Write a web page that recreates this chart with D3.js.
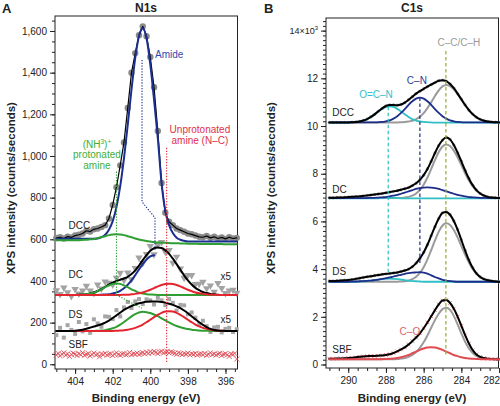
<!DOCTYPE html>
<html><head><meta charset="utf-8">
<script src="https://cdn.jsdelivr.net/npm/d3@7"></script>
<style>
body{margin:0;background:#fff}
svg{display:block;font-family:"Liberation Sans",Arial,Helvetica,sans-serif}
</style></head><body>
<svg id="c" width="500" height="406"></svg>
<script>
// ================= DATA : Panel A (N1s) =================
// energy sampling grid, 405.0 -> 395.4 eV, 0.2 eV steps (49 points)
const energyA = d3.range(49).map(i => +(405 - 0.2 * i).toFixed(1));
// SBF raw data grid, 0.1 eV steps (97 points)
const energySBF = d3.range(97).map(i => +(405 - 0.1 * i).toFixed(1));

const dccData  = [606,610,604,613,609,618,622,628,641,637, 648,652,659,668,700,765,850,955,1065,1230, 1400,1494,1580,1622,1575,1475,1330,1120,870,728, 684,668,652,644,636,628,624,618,612,610, 616,607,612,604,609,602,610,604,607];
const dccAmide = [603,603,603,603,603,603,603,603,603,603, 603,604,610,622,646,687,755,855,989,1149, 1319,1471,1576,1613,1565,1440,1270,1085,870,735, 668,630,608,598,593,590,590,590,590,590, 590,590,590,590,590,590,590,590,590];
const dccProt  = [595,595,595,595,595,596,596,597,598,600, 602,606,610,615,620,623,624,623,620,615, 610,604,599,595,592,589,587,585,584,583, 582,581,581,580,580,579,579,579,578,578, 578,577,577,577,577,576,576,576,576];

const dcData   = [355,337,368,345,327,361,339,353,376,354, 341,382,363,397,391,382,415,439,404,440, 408,461,512,485,529,567,527,573,586,539, 548,487,516,459,415,428,428,385,386,395, 364,378,348,389,365,341,353,357,343];
const dcFit    = [333,333,333,333,333,333,334,335,336,340, 345,352,361,372,383,392,400,406,412,420, 433,451,474,500,524,545,557,561,558,547, 530,507,481,454,427,403,383,367,356,347, 342,338,336,334,333,333,333,333,333];
// amide component of DC, plotted up to its maximum (as in the figure)
const dcAmide  = [333,333,333,333,333,333,333,333,333,333, 333,333,334,335,336,340,345,353,365,382, 403,428,455,481,503,518,523];
const dcProt   = [333,333,333,333,333,333,334,335,336,340, 344,352,360,370,379,386,388,386,379,370, 360,352,344,340,336,335,334,333,333,333, 333,333,333,333,333,333,333,333,333,333, 333,333,333,333,333,333,333,333,333];
const dcUnprot = [333,333,333,333,333,333,333,333,333,333, 333,333,333,333,333,333,333,333,334,334, 336,338,341,345,351,358,366,374,381,385, 387,385,381,374,366,358,351,345,341,338, 336,334,334,333,333,333,333,333,333];

const dsData   = [140,175,128,188,165,146,203,158,193,151, 216,196,180,230,228,217,260,230,273,299, 270,302,313,289,312,307,287,319,307,284, 313,295,258,285,283,240,249,224,192,209, 183,155,177,180,153,170,175,155,168];
const dsFit    = [160,160,160,160,160,161,163,166,171,176, 181,186,192,200,210,222,235,248,261,271, 280,287,293,297,300,302,302,301,299,296, 291,285,278,270,258,245,231,216,202,189, 178,170,165,162,161,160,160,160,160];
const dsProt   = [160,160,160,160,160,160,160,160,160,160, 160,161,162,164,168,173,180,190,203,216, 230,241,249,252,250,246,239,231,221,211, 201,192,184,178,173,169,166,164,162,161, 161,160,160,160,160,160,160,160,160];
const dsUnprot = [160,160,160,160,160,160,160,160,160,160, 160,160,160,160,160,160,161,162,163.5,166, 170,175,182,191,202,214,226,237,247,253, 255,253,247,237,226,214,202,191,182,175, 170,166,163.5,162,161,160,160,160,160];

const sbfA = [45,52,41,48,55,44,50,38,47,53, 49,42,51,46,56,43,48,52,40,47, 54,45,49,36,50,46,53,44,48,51, 42,49,55,47,43,50,52,45,48,57, 46,51,49,54,47,52,56,50,58,53, 60,55,62,57,51,59,63,54,58,61, 55,60,57,53,48,55,51,46,52,49, 54,45,50,47,53,44,49,51,46,52, 43,48,55,47,50,44,49,53,42,48, 51,45,38,50,47,52,25];

const yTicksA = [0,200,400,600,800,1000,1200,1400,1600];
const xTicksA = [404,402,400,398,396];

// ================= DATA : Panel B (C1s) =================
const energyB = d3.range(46).map(i => +(291 - 0.2 * i).toFixed(1));

const dccFitB = [10.15,10.15,10.15,10.15,10.15,10.15,10.16,10.17,10.19,10.23, 10.29,10.38,10.49,10.62,10.74,10.84,10.88,10.88,10.87,10.90, 10.98,11.10,11.23,11.36,11.46,11.56,11.65,11.74,11.82,11.90, 11.92,11.88,11.76,11.59,11.36,11.12,10.88,10.67,10.50,10.37, 10.28,10.22,10.19,10.17,10.16,10.15];
const dccCC   = [10.15,10.15,10.15,10.15,10.15,10.15,10.15,10.15,10.15,10.15, 10.15,10.15,10.15,10.15,10.15,10.15,10.15,10.15,10.15,10.16, 10.17,10.19,10.22,10.29,10.39,10.54,10.75,11.00,11.26,11.50, 11.66,11.72,11.67,11.54,11.34,11.11,10.88,10.67,10.50,10.37, 10.28,10.22,10.19,10.17,10.16,10.15];
const dccCN   = [10.15,10.15,10.15,10.15,10.15,10.15,10.15,10.15,10.15,10.15, 10.15,10.15,10.15,10.16,10.17,10.20,10.24,10.31,10.41,10.55, 10.71,10.89,11.04,11.15,11.19,11.15,11.04,10.89,10.71,10.55, 10.41,10.31,10.24,10.20,10.17,10.16,10.15,10.15,10.15,10.15, 10.15,10.15,10.15,10.15,10.15,10.15];
const dccOCN  = [10.14,10.14,10.14,10.14,10.14,10.14,10.16,10.17,10.19,10.23, 10.29,10.38,10.49,10.61,10.72,10.80,10.83,10.80,10.72,10.61, 10.49,10.38,10.29,10.23,10.19,10.17,10.16,10.15,10.14,10.14, 10.14,10.14,10.14,10.14,10.14,10.14,10.14,10.14,10.14,10.14, 10.14,10.14,10.14,10.14,10.14,10.14];

const dcFitB = [6.99,6.99,7.00,7.00,7.01,7.02,7.03,7.04,7.05,7.07, 7.09,7.11,7.13,7.15,7.17,7.20,7.23,7.26,7.29,7.33, 7.37,7.42,7.50,7.60,7.74,7.94,8.20,8.52,8.87,9.18, 9.41,9.52,9.44,9.20,8.88,8.52,8.14,7.80,7.52,7.31, 7.17,7.08,7.03,7.00,6.99,6.98];
const dcCC   = [6.98,6.98,6.98,6.98,6.98,6.98,6.98,6.98,6.98,6.98, 6.98,6.98,6.98,6.98,6.98,6.98,6.98,6.98,6.98,6.98, 7.00,7.03,7.08,7.17,7.32,7.54,7.84,8.20,8.57,8.91, 9.14,9.23,9.16,8.97,8.69,8.36,8.02,7.72,7.48,7.30, 7.17,7.08,7.03,7.01,6.99,6.98];
const dcCN   = [6.98,6.98,6.98,6.98,6.98,6.98,6.98,6.98,6.98,6.98, 6.98,6.99,6.99,7.00,7.01,7.02,7.05,7.08,7.11,7.16, 7.21,7.26,7.31,7.36,7.40,7.42,7.43,7.42,7.40,7.36, 7.31,7.26,7.21,7.16,7.11,7.08,7.05,7.02,7.01,7.00, 6.99,6.99,6.98,6.98,6.98,6.98];
const dcOCN  = [6.97,6.97,6.97,6.97,6.97,6.97,6.97,6.97,6.97,6.97, 6.97,6.97,6.97,6.97,6.98,6.99,6.99,6.99,6.98,6.97, 6.97,6.97,6.97,6.97,6.97,6.97,6.97,6.97,6.97,6.97, 6.97,6.97,6.97,6.97,6.97,6.97,6.97,6.97,6.97,6.97, 6.97,6.97,6.97,6.97,6.97,6.97];

const dsFitB = [3.50,3.50,3.51,3.52,3.53,3.54,3.56,3.59,3.62,3.65, 3.68,3.70,3.73,3.75,3.78,3.80,3.82,3.84,3.86,3.90, 3.94,4.00,4.10,4.25,4.45,4.70,5.02,5.40,5.78,6.12, 6.36,6.40,6.28,6.02,5.66,5.22,4.78,4.38,4.06,3.82, 3.67,3.58,3.53,3.50,3.48,3.47];
const dsCC   = [3.47,3.47,3.47,3.47,3.47,3.47,3.47,3.47,3.47,3.47, 3.47,3.47,3.47,3.47,3.47,3.47,3.47,3.47,3.47,3.48, 3.49,3.52,3.58,3.68,3.84,4.08,4.41,4.80,5.20,5.57, 5.83,5.92,5.85,5.64,5.33,4.97,4.61,4.28,4.01,3.81, 3.67,3.58,3.53,3.50,3.48,3.47];
const dsCN   = [3.47,3.47,3.47,3.47,3.47,3.47,3.48,3.48,3.49,3.50, 3.51,3.52,3.54,3.56,3.59,3.62,3.65,3.69,3.73,3.76, 3.80,3.83,3.85,3.86,3.87,3.85,3.81,3.74,3.67,3.61, 3.55,3.52,3.50,3.48,3.47,3.47,3.47,3.47,3.47,3.47, 3.47,3.47,3.47,3.47,3.47,3.47];
const dsOCN  = [3.47,3.47,3.47,3.47,3.47,3.47,3.47,3.47,3.48,3.49, 3.50,3.51,3.54,3.56,3.58,3.59,3.60,3.59,3.58,3.56, 3.54,3.51,3.50,3.49,3.48,3.47,3.47,3.47,3.47,3.47, 3.47,3.47,3.47,3.47,3.47,3.47,3.47,3.47,3.47,3.47, 3.47,3.47,3.47,3.47,3.47,3.47];

const sbfFitB = [0.24,0.24,0.25,0.25,0.26,0.27,0.28,0.30,0.32,0.34, 0.35,0.36,0.36,0.37,0.38,0.40,0.43,0.48,0.55,0.63, 0.72,0.84,0.98,1.13,1.31,1.52,1.76,2.02,2.28,2.52, 2.68,2.70,2.58,2.34,2.01,1.62,1.23,0.88,0.60,0.42, 0.32,0.27,0.24,0.23,0.22,0.22];
const sbfCC   = [0.22,0.22,0.22,0.22,0.22,0.22,0.22,0.22,0.22,0.22, 0.22,0.22,0.22,0.22,0.22,0.22,0.22,0.22,0.23,0.25, 0.27,0.32,0.40,0.52,0.70,0.93,1.22,1.54,1.86,2.13, 2.32,2.38,2.29,2.04,1.68,1.30,0.95,0.67,0.48,0.36, 0.29,0.25,0.23,0.22,0.22,0.22];
const sbfCO   = [0.22,0.22,0.22,0.22,0.22,0.22,0.22,0.22,0.22,0.22, 0.22,0.22,0.22,0.22,0.225,0.23,0.24,0.25,0.27,0.305, 0.35,0.40,0.47,0.54,0.61,0.67,0.71,0.72,0.71,0.67, 0.61,0.54,0.47,0.40,0.35,0.305,0.27,0.25,0.24,0.23, 0.225,0.22,0.22,0.22,0.22,0.22];

const yTicksB = [0,2,4,6,8,10,12,14];
const xTicksB = [290,288,286,284,282];

// guide lines [energy, value]
const guideAGreen = [[401.8,925],[401.8,333],[400.44,269]];
const guideABlue  = [[400.44,1461],[400.44,780],[399.75,703],[399.75,549]];
const guideARed   = [[399.13,1039],[399.13,10]];
const guideBCyan  = [[287.88,10.81],[287.88,3.75]];
const guideBNavy  = [[286.2,11.2],[286.2,4.26]];
const guideBGreen = [[284.82,13.15],[284.82,0.4]];

// ================= LAYOUT / STYLE =================
const svg = d3.select("#c");
const C = {
  blue:"#1b2f8f", green:"#2f9e33", red:"#e3262e", grey:"#8a8a8a",
  cyan:"#2fbfc4", navy:"#1d2d8a", olive:"#8fae3c", lgrey:"#9a9a9a", red2:"#e04a50"
};
const xA = d3.scaleLinear().domain([405.07, 395.36]).range([55, 237.5]);
const yA = d3.scaleLinear().domain([-22.6, 1672]).range([369, 16]);
const xB = d3.scaleLinear().domain([291.18, 282.03]).range([326, 498.5]);
const yB = d3.scaleLinear().domain([-0.147, 14.53]).range([368, 18]);

function pts(xs, ys){ return ys.map((v,i)=>[xs[i], v]); }
function drawLine(sx, sy, data, color, w, curve, dash){
  const p = svg.append("path").datum(data)
    .attr("d", d3.line().x(d=>sx(d[0])).y(d=>sy(d[1])).curve(curve || d3.curveMonotoneX))
    .attr("fill","none").attr("stroke",color).attr("stroke-width",w)
    .attr("stroke-linejoin","round").attr("stroke-linecap","round");
  if (dash) p.attr("stroke-dasharray", dash).attr("stroke-linecap","butt");
  return p;
}
function drawSymbols(sx, sy, data, type, size, fill, stroke, rot){
  svg.append("g").selectAll("path").data(data).join("path")
    .attr("d", d3.symbol(type, size))
    .attr("transform", d=>`translate(${sx(d[0])},${sy(d[1])})${rot?` rotate(${rot})`:""}`)
    .attr("fill", fill || "none").attr("stroke", stroke || "none").attr("stroke-width", 0.9);
}
function label(x, y, txt, opt={}){
  const t = svg.append("text").attr("x",x).attr("y",y)
    .attr("font-size", opt.size || 10).attr("fill", opt.color || "#222")
    .attr("text-anchor", opt.anchor || "start")
    .attr("font-weight", opt.bold ? "bold" : "normal").text(txt);
  return t;
}

// ================= AXES =================
function axes(sx, sy, x0, x1, y0, y1, xMaj, xMinStep, yMaj, yMinStep, yFmt){
  const xd = sx.domain(), yd = sy.domain();
  const xMin = d3.range(Math.ceil(Math.min(...xd)/xMinStep)*xMinStep, Math.max(...xd)+1e-9, xMinStep);
  const yMin = d3.range(Math.ceil(yd[0]/yMinStep)*yMinStep, yd[1]+1e-9, yMinStep);
  const g1 = svg.append("g").attr("transform",`translate(0,${y1})`)
    .call(d3.axisBottom(sx).tickValues(xMin).tickSize(3).tickFormat(""));
  const g2 = svg.append("g").attr("transform",`translate(0,${y1})`)
    .call(d3.axisBottom(sx).tickValues(xMaj).tickSize(5).tickPadding(4).tickFormat(d3.format("d")));
  const g3 = svg.append("g").attr("transform",`translate(${x0},0)`)
    .call(d3.axisLeft(sy).tickValues(yMin).tickSize(3).tickFormat(""));
  const g4 = svg.append("g").attr("transform",`translate(${x0},0)`)
    .call(d3.axisLeft(sy).tickValues(yMaj).tickSize(5).tickPadding(3).tickFormat(yFmt));
  [g1,g2,g3,g4].forEach(g=>{
    g.select(".domain").remove();
    g.selectAll("line").attr("stroke","#222");
    g.selectAll("text").attr("font-size",10).attr("fill","#222")
      .attr("font-family",'"Liberation Sans",Arial,sans-serif');
  });
  svg.append("rect").attr("x",x0).attr("y",y0).attr("width",x1-x0).attr("height",y1-y0)
    .attr("fill","none").attr("stroke","#222").attr("stroke-width",1);
  return {gx:g2, gy:g4};
}
axes(xA, yA, 55, 237.5, 16, 369, xTicksA, 0.5, yTicksA, 50, d3.format(","));
const axB = axes(xB, yB, 326, 498.5, 18, 368, xTicksB, 0.5, yTicksB, 0.2, d=> d===14 ? "" : d);
axB.gy.selectAll(".tick").filter(d=>d===14).select("text").each(function(){
  const t = d3.select(this).attr("font-size",9);
  t.append("tspan").text("14×10");
  t.append("tspan").attr("dy",-4).attr("font-size",6).text("3");
});
// last x label sits on the page edge: keep it inside the picture
axB.gx.selectAll(".tick").filter(d=>d===282).select("text").attr("text-anchor","end").attr("x",0.5);

// ================= PANEL A =================
drawSymbols(xA, yA, pts(energySBF, sbfA), d3.symbolTimes, 18, null, "#e0505a");
drawSymbols(xA, yA, pts(energyA, dsData), d3.symbolSquare, 16, "#a6a6a6");
drawSymbols(xA, yA, pts(energyA, dcData), d3.symbolTriangle, 24, "#a3a3a3", null, 180);
// DS fits
drawLine(xA, yA, pts(energyA, dsProt), C.green, 2);
drawLine(xA, yA, pts(energyA, dsUnprot), C.red, 2);
drawLine(xA, yA, pts(energyA, dsFit), "#000", 2);
// DC fits
drawLine(xA, yA, pts(energyA, dcAmide), C.blue, 2);
drawLine(xA, yA, pts(energyA, dcFit), "#000", 2);
drawLine(xA, yA, pts(energyA, dcProt), C.green, 2);
drawLine(xA, yA, pts(energyA, dcUnprot), C.red, 2);
// DCC
svg.append("g").selectAll("circle").data(pts(energyA, dccData)).join("circle")
  .attr("cx", d=>xA(d[0])).attr("cy", d=>yA(d[1])).attr("r",3.2).attr("fill",C.grey);
drawLine(xA, yA, pts(energyA, dccData), "#000", 1.2, d3.curveLinear);
drawLine(xA, yA, pts(energyA, dccAmide), C.blue, 2);
drawLine(xA, yA, pts(energyA, dccProt), C.green, 2);
// guides
drawLine(xA, yA, guideAGreen, C.green, 1.1, d3.curveLinear, "1.3,1.5");
drawLine(xA, yA, guideABlue, C.blue, 1.1, d3.curveLinear, "1.3,1.5");
drawLine(xA, yA, guideARed, C.red, 1.1, d3.curveLinear, "1.3,1.5");

const annA = [
  {t:"Amide", e:399.75, v:1470, c:"#2a4ab0", a:"start"},
  {t:"Unprotonated", e:397.36, v:1112, c:"#e0304a", a:"middle"},
  {t:"amine (N–C)", e:397.36, v:1058, c:"#e0304a", a:"middle"},
  {t:"protonated", e:402.84, v:990, c:"#3cae37", a:"middle"},
  {t:"amine", e:402.84, v:937, c:"#3cae37", a:"middle"},
  {t:"DCC", e:404.35, v:650, c:"#222", a:"start"},
  {t:"DC", e:404.35, v:415, c:"#222", a:"start"},
  {t:"DS", e:404.35, v:222, c:"#222", a:"start"},
  {t:"SBF", e:404.35, v:78, c:"#222", a:"start"},
  {t:"x5", e:395.7, v:404, c:"#222", a:"end"},
  {t:"x5", e:395.7, v:198, c:"#222", a:"end"}
];
annA.forEach(d=>label(xA(d.e), yA(d.v), d.t, {color:d.c, anchor:d.a}));
{
  const t = label(xA(402.84), yA(1038), "", {color:"#3cae37", anchor:"middle"});
  t.append("tspan").text("(NH");
  t.append("tspan").attr("dy",-4).attr("font-size",6.5).text("3");
  t.append("tspan").attr("dy",4).text(")");
  t.append("tspan").attr("dy",-4).attr("font-size",6.5).text("+");
}

// ================= PANEL B =================
[dccFitB, dcFitB, dsFitB].forEach(f=>{
  svg.append("g").selectAll("circle").data(pts(energyB, f)).join("circle")
    .attr("cx", d=>xB(d[0])).attr("cy", d=>yB(d[1])).attr("r",1.7).attr("fill","#ababab");
});
drawSymbols(xB, yB, pts(energyB, sbfFitB), d3.symbolTimes, 10, null, "#ea7070");

drawLine(xB, yB, pts(energyB, dccCC), C.lgrey, 2);
drawLine(xB, yB, pts(energyB, dccOCN), C.cyan, 1.8);
drawLine(xB, yB, pts(energyB, dccCN), C.navy, 1.8);
drawLine(xB, yB, pts(energyB, dccFitB), "#000", 2);
drawLine(xB, yB, pts(energyB, dcCC), C.lgrey, 2);
drawLine(xB, yB, pts(energyB, dcOCN), C.cyan, 1.8);
drawLine(xB, yB, pts(energyB, dcCN), C.navy, 1.8);
drawLine(xB, yB, pts(energyB, dcFitB), "#000", 2);
drawLine(xB, yB, pts(energyB, dsCC), C.lgrey, 2);
drawLine(xB, yB, pts(energyB, dsOCN), C.cyan, 1.8);
drawLine(xB, yB, pts(energyB, dsCN), C.navy, 1.8);
drawLine(xB, yB, pts(energyB, dsFitB), "#000", 2);
drawLine(xB, yB, pts(energyB, sbfCC), C.lgrey, 2);
drawLine(xB, yB, pts(energyB, sbfFitB), "#000", 2);
drawLine(xB, yB, pts(energyB, sbfCO), C.red2, 2);
drawLine(xB, yB, guideBCyan, C.cyan, 1.2, d3.curveLinear, "3.5,2.5");
drawLine(xB, yB, guideBNavy, C.navy, 1.2, d3.curveLinear, "3.5,2.5");
drawLine(xB, yB, guideBGreen, C.olive, 1.2, d3.curveLinear, "3.5,2.5");

const annB = [
  {t:"O=C–N", e:288.53, v:11.17, c:"#35c0c8", a:"middle"},
  {t:"C–N", e:286.36, v:11.78, c:"#2a3c9a", a:"middle"},
  {t:"C–C/C–H", e:284.13, v:13.35, c:"#999", a:"middle"},
  {t:"DCC", e:290.85, v:10.42, c:"#222", a:"start"},
  {t:"DC", e:290.85, v:7.19, c:"#222", a:"start"},
  {t:"DS", e:290.85, v:3.75, c:"#222", a:"start"},
  {t:"SBF", e:290.85, v:0.48, c:"#222", a:"start"},
  {t:"C–O", e:286.73, v:1.24, c:"#e0606a", a:"middle"}
];
annB.forEach(d=>label(xB(d.e), yB(d.v), d.t, {color:d.c, anchor:d.a}));

// ================= TITLES =================
label(2, 13, "A", {size:13, bold:true});
label(264, 13, "B", {size:13, bold:true});
label(146, 12, "N1s", {size:12, bold:true, anchor:"middle"});
label(412, 12, "C1s", {size:12, bold:true, anchor:"middle"});
label(146, 402, "Binding energy (eV)", {size:11.5, bold:true, anchor:"middle"});
label(412, 402, "Binding energy (eV)", {size:11.5, bold:true, anchor:"middle"});
label(0, 0, "XPS intensity (counts/seconds)", {size:11.5, bold:true, anchor:"middle"})
  .attr("transform","translate(15,188) rotate(-90)");
label(0, 0, "XPS intensity (counts/seconds)", {size:11.5, bold:true, anchor:"middle"})
  .attr("transform","translate(275,188) rotate(-90)");
</script>
</body></html>
